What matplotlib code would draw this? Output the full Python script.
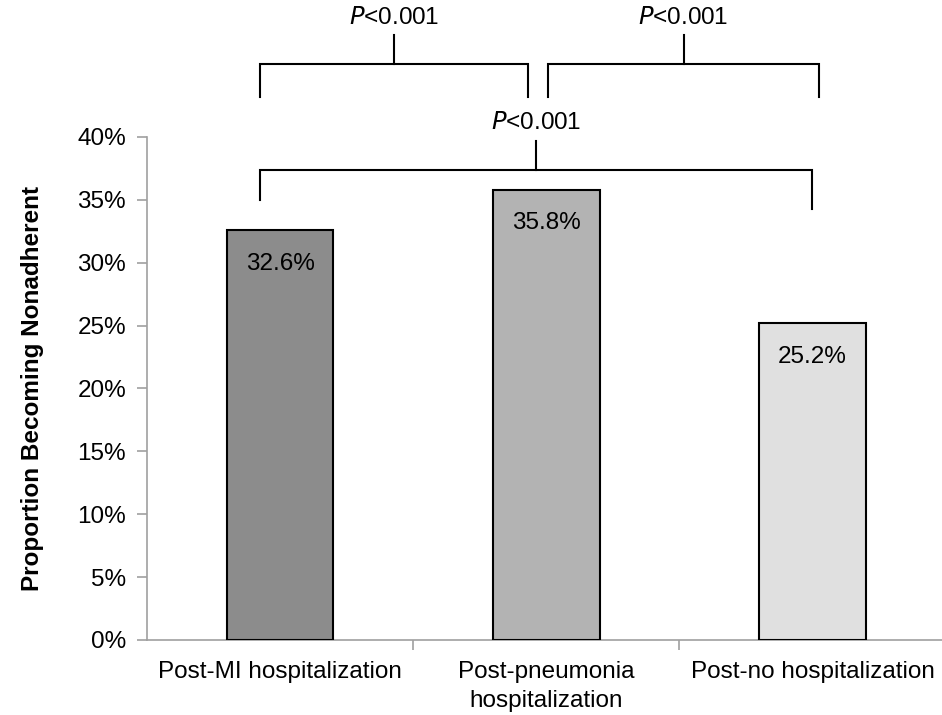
import matplotlib
matplotlib.use("Agg")
import matplotlib.pyplot as plt

# datos
categorias = ["Post-MI hospitalization", "Post-pneumonia\nhospitalization", "Post-no hospitalization"]
valores = [32.6, 35.8, 25.2]
etiquetas = ["32.6%", "35.8%", "25.2%"]
colores = ["#8c8c8c", "#b3b3b3", "#e0e0e0"]
yticks = [0, 5, 10, 15, 20, 25, 30, 35, 40]

# brackets: (x izq, x der, y horizontal, y pata izq, y pata der, y tope, texto)
brackets = [
    (-0.077, 0.932, 45.8, 43.2, 43.2, 48.1, "0.001"),
    (1.007, 2.024, 45.8, 43.2, 43.2, 48.1, "0.001"),
    (-0.077, 1.998, 37.4, 35.0, 34.3, 39.7, "0.001"),
]

plt.rcParams["font.family"] = ["Liberation Sans", "DejaVu Sans"]
fs = 17.5

fig = plt.figure(figsize=(9.42, 7.15), dpi=100)
ax = fig.add_axes([0.156, 0.105, 0.848, 0.7035])

x = range(len(categorias))
ax.bar(x, valores, width=0.40, color=colores, edgecolor="black", linewidth=1.5, zorder=3)

for i, (v, t) in enumerate(zip(valores, etiquetas)):
    ax.text(i, v - 1.8, t, ha="center", va="top", fontsize=fs)

for xl, xr, yh, yl, yr, yt, txt in brackets:
    xc = (xl + xr) / 2
    ax.plot([xl, xl, xr, xr], [yl, yh, yh, yr], color="black", lw=1.5,
            clip_on=False, solid_joinstyle="miter")
    ax.plot([xc, xc], [yh, yt], color="black", lw=1.5, clip_on=False)
    ax.text(xc, yt + 0.9, "$\\it{P}$<" + txt, ha="center", va="baseline",
            fontsize=fs, clip_on=False)

ax.set_xlim(-0.5, 2.5)
ax.set_ylim(0, 40)
ax.set_yticks(yticks)
ax.set_yticklabels([f"{t}%" for t in yticks], fontsize=fs)
ax.set_xticks(x)
ax.set_xticklabels(categorias, fontsize=fs, linespacing=1.45)
ax.tick_params(axis="x", length=0, pad=15)
ax.set_xticks([0.5, 1.5, 2.5], minor=True)
ax.tick_params(axis="x", which="minor", length=7, color="#a0a0a0", width=1.2)
ax.tick_params(axis="y", length=7, color="#a0a0a0", width=1.2, pad=8)

for s in ["top", "right"]:
    ax.spines[s].set_visible(False)
for s in ["left", "bottom"]:
    ax.spines[s].set_color("#a0a0a0")
    ax.spines[s].set_linewidth(1.2)

ax.set_ylabel("Proportion Becoming Nonadherent", fontsize=fs, fontweight="bold", labelpad=24)

fig.savefig("out.png", dpi=100)
